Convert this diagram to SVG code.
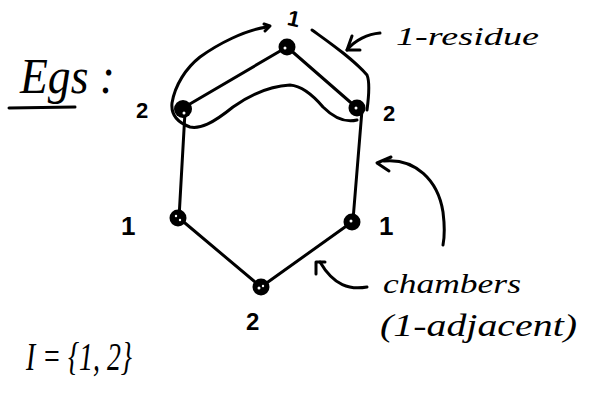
<svg xmlns="http://www.w3.org/2000/svg" width="593" height="393" viewBox="0 0 593 393">
<style>
.ln{fill:none;stroke:#000;stroke-width:3;stroke-linecap:round;stroke-linejoin:round}
.hw{font-family:"Liberation Serif",serif;font-style:italic;fill:#000}
.lb{font-family:"Liberation Sans",sans-serif;fill:#000;font-weight:bold}
.nd{fill:#000}
.hl{fill:#fff}
</style>
<rect width="593" height="393" fill="#fff"/>
<g id="connectors">
<path class="ln" d="M287,47 L183,108"/>
<path class="ln" d="M287,47 L357,108"/>
<path class="ln" d="M185,112 L179,218"/>
<path class="ln" d="M362,110 L353,220"/>
<path class="ln" d="M179,218 L261,287"/>
<path class="ln" d="M261,287 L352,222"/>
</g>
<g id="residue-outline">
<path class="ln" d="M267,27 C245,30 218,44 200,57 C186,68 175,85 172,103 C171,113 176,122 190,127 C200,129 212,124 233,107 C250,95 270,86 290,85 C302,86 312,94 323,107 C333,117 345,123 357,120"/>
<path class="ln" d="M264,24 L270,26 L265,31"/>
<path class="ln" d="M312,30 C330,43 352,58 367,75 C370,82 369,95 367,110"/>
</g>
<g id="arrows">
<path class="ln" d="M380,33 C368,34 355,40 347,50"/>
<path class="ln" d="M352,36 L347,50 L360,50"/>
<path class="ln" d="M384,161 C415,158 438,180 443,212 C445,228 444,240 443,245"/>
<path class="ln" d="M391,157 L377,163 L389,171"/>
<path class="ln" d="M367,287 C350,290 334,286 320,262"/>
<path class="ln" d="M316,274 L316,262 L325,262"/>
</g>
<g id="node-top"><circle class="nd" cx="287" cy="47" r="8.5"/><circle class="hl" cx="285" cy="48" r="1.5"/></g>
<g id="node-upper-left"><circle class="nd" cx="183" cy="109" r="9"/><circle class="hl" cx="184" cy="113" r="1.5"/></g>
<g id="node-upper-right"><circle class="nd" cx="357" cy="108" r="8.5"/><circle class="hl" cx="356" cy="108" r="1.5"/></g>
<g id="node-lower-left"><circle class="nd" cx="178" cy="218" r="8.5"/><circle class="hl" cx="176" cy="216" r="1.2"/><circle class="hl" cx="180" cy="220" r="1.2"/></g>
<g id="node-lower-right"><circle class="nd" cx="352" cy="222" r="8.5"/><circle class="hl" cx="351" cy="221" r="1.5"/></g>
<g id="node-bottom"><circle class="nd" cx="261" cy="287" r="8.5"/><circle class="hl" cx="259" cy="288" r="1.5"/><circle class="hl" cx="263" cy="286" r="1.2"/></g>
<g id="labels">
<text class="lb" x="288" y="26" style="font-size:22px" transform="rotate(12 293 17)">1</text>
<text class="lb" x="136" y="118" style="font-size:22px">2</text>
<text class="lb" x="383" y="121" style="font-size:22px">2</text>
<text class="lb" x="121" y="235" style="font-size:26px">1</text>
<text class="lb" x="379" y="235" style="font-size:26px">1</text>
<text class="lb" x="246" y="330" style="font-size:24px">2</text>
</g>
<g id="annotations">
<text class="hw" x="20" y="93" font-size="50" textLength="95" lengthAdjust="spacingAndGlyphs">Egs :</text>
<path class="ln" d="M9,108 L75,107"/>
<text class="hw" x="396" y="45" font-size="26" textLength="143" lengthAdjust="spacingAndGlyphs">1-residue</text>
<text class="hw" x="383" y="293" font-size="28" textLength="138" lengthAdjust="spacingAndGlyphs">chambers</text>
<text class="hw" x="380" y="336" font-size="32" textLength="197" lengthAdjust="spacingAndGlyphs">(1-adjacent)</text>
<text class="hw" x="26" y="370" font-size="40" textLength="106" lengthAdjust="spacingAndGlyphs">I = {1, 2}</text>
</g>
</svg>
